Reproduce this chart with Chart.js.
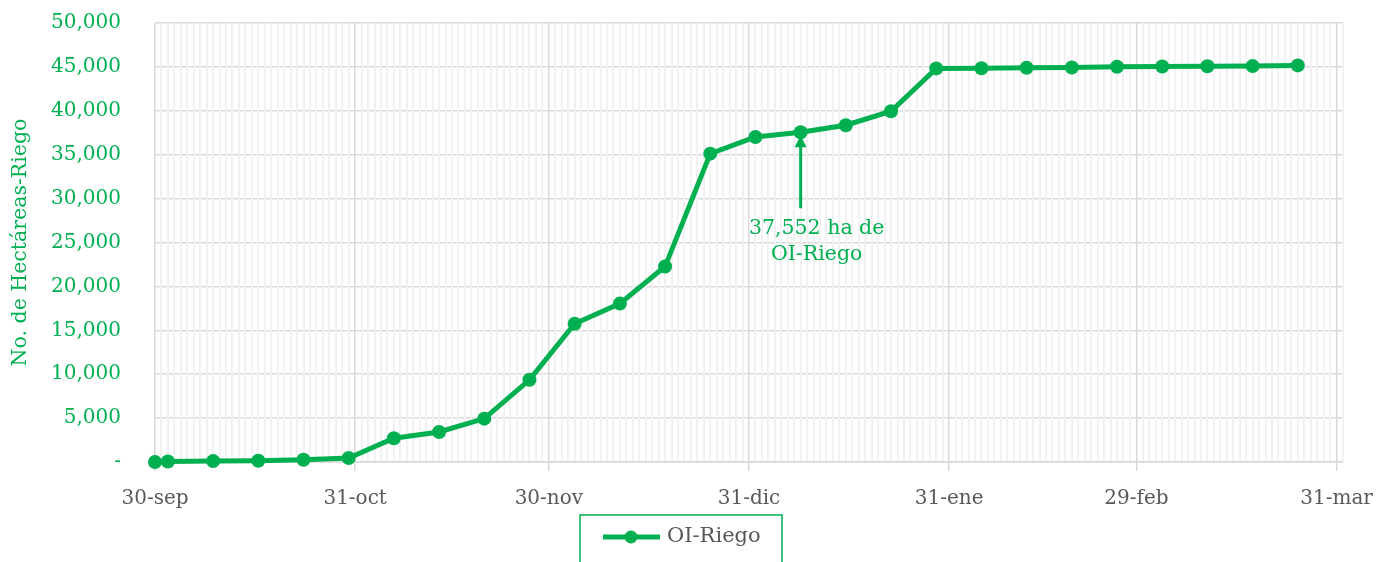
<!DOCTYPE html>
<html>
<head>
<meta charset="utf-8">
<script src="https://cdn.jsdelivr.net/npm/chart.js@4.4.0/dist/chart.umd.min.js"></script>
<style>
  html, body { margin: 0; padding: 0; background: #fff; }
</style>
</head>
<body>
<canvas id="chart" width="1382" height="562"></canvas>
<script>
const fechas = [
  '2023-09-30', '2023-10-02', '2023-10-09', '2023-10-16', '2023-10-23', '2023-10-30',
  '2023-11-06', '2023-11-13', '2023-11-20', '2023-11-27', '2023-12-04', '2023-12-11',
  '2023-12-18', '2023-12-25', '2024-01-01', '2024-01-08', '2024-01-15', '2024-01-22',
  '2024-01-29', '2024-02-05', '2024-02-12', '2024-02-19', '2024-02-26', '2024-03-04',
  '2024-03-11', '2024-03-18', '2024-03-25'
];
const hectareas = [
  0, 50, 100, 150, 250, 450,
  2700, 3420, 4940, 9360, 15750, 18040,
  22260, 35120, 37020, 37552, 38360, 39950,
  44830, 44850, 44900, 44940, 45010, 45050,
  45070, 45090, 45170
];
const mesesFechas = ['2023-09-30', '2023-10-31', '2023-11-30', '2023-12-31', '2024-01-31', '2024-02-29', '2024-03-31'];
const mesesLabels = ['30-sep', '31-oct', '30-nov', '31-dic', '31-ene', '29-feb', '31-mar'];
const yTicks = [0, 5000, 10000, 15000, 20000, 25000, 30000, 35000, 40000, 45000, 50000];
const notaFecha = '2024-01-08';
const notaTexto = ['37,552 ha de', 'OI-Riego'];

const VERDE = '#00b050';
const GRIS = '#595959';
const FUENTE = '"DejaVu Serif", serif';

const base = Date.UTC(2023, 8, 30);
function dia(s) {
  const p = s.split('-').map(Number);
  return Math.round((Date.UTC(p[0], p[1] - 1, p[2]) - base) / 86400000);
}

const mesesDias = mesesFechas.map(dia);
const puntos = fechas.map((f, i) => ({ x: dia(f), y: hectareas[i] }));

function esMes(c) {
  return mesesDias.includes(c.tick && c.tick.value);
}

// Arrow + text pointing at the annotated point
const notaPlugin = {
  id: 'nota',
  afterDatasetsDraw(chart) {
    const idx = fechas.indexOf(notaFecha);
    const pt = chart.getDatasetMeta(0).data[idx];
    const ctx = chart.ctx;
    const x = pt.x, y = pt.y;
    ctx.save();
    ctx.strokeStyle = VERDE;
    ctx.fillStyle = VERDE;
    ctx.lineWidth = 3;
    ctx.beginPath();
    ctx.moveTo(x, y + 76);
    ctx.lineTo(x, y + 12);
    ctx.stroke();
    ctx.beginPath();
    ctx.moveTo(x, y + 3);
    ctx.lineTo(x - 6, y + 15);
    ctx.lineTo(x + 6, y + 15);
    ctx.closePath();
    ctx.fill();
    ctx.font = '20.5px ' + FUENTE;
    ctx.textAlign = 'center';
    ctx.textBaseline = 'middle';
    ctx.fillText(notaTexto[0], x + 16, y + 96);
    ctx.fillText(notaTexto[1], x + 16, y + 122);
    ctx.restore();
  }
};

// Boxed legend at the bottom
const leyendaPlugin = {
  id: 'leyenda',
  afterDraw(chart) {
    const ctx = chart.ctx;
    const ds = chart.data.datasets[0];
    const left = chart.width / 2 - 111;
    const top = 515;
    ctx.save();
    ctx.strokeStyle = VERDE;
    ctx.lineWidth = 1.5;
    ctx.strokeRect(left, top, 202, 60);
    const cy = top + 22;
    ctx.strokeStyle = ds.borderColor;
    ctx.lineWidth = 5;
    ctx.beginPath();
    ctx.moveTo(left + 23, cy);
    ctx.lineTo(left + 80, cy);
    ctx.stroke();
    ctx.fillStyle = ds.borderColor;
    ctx.beginPath();
    ctx.arc(left + 51, cy, 6.5, 0, Math.PI * 2);
    ctx.fill();
    ctx.fillStyle = GRIS;
    ctx.font = '21px ' + FUENTE;
    ctx.textBaseline = 'middle';
    ctx.fillText(ds.label, left + 87, cy);
    ctx.restore();
  }
};

new Chart(document.getElementById('chart'), {
  type: 'line',
  data: {
    datasets: [{
      label: 'OI-Riego',
      data: puntos,
      borderColor: VERDE,
      backgroundColor: VERDE,
      borderWidth: 5,
      pointRadius: 7,
      pointBorderWidth: 0,
      pointBackgroundColor: VERDE,
      tension: 0,
      clip: false
    }]
  },
  options: {
    responsive: false,
    animation: false,
    layout: { padding: { left: 8, right: 39, top: 0, bottom: 35 } },
    plugins: {
      legend: { display: false },
      tooltip: { enabled: false }
    },
    scales: {
      y: {
        min: 0,
        max: 50000,
        afterBuildTicks(axis) {
          axis.ticks = yTicks.map(v => ({ value: v }));
        },
        afterFit(axis) {
          axis.width = 147;
          axis.paddingTop = 23;
          axis.paddingBottom = 0;
        },
        ticks: {
          color: VERDE,
          font: { family: FUENTE, size: 20 },
          padding: 34,
          callback(v) {
            return v === 0 ? '-' : v.toLocaleString('en-US');
          }
        },
        grid: { color: '#d9d9d9', lineWidth: 1.5, drawTicks: false },
        border: { display: false },
        title: {
          display: true,
          text: 'No. de Hectáreas-Riego',
          color: VERDE,
          font: { family: FUENTE, size: 20.5 },
          padding: { top: 0, bottom: 8 }
        }
      },
      x: {
        type: 'linear',
        min: 0,
        max: 184,
        afterBuildTicks(axis) {
          const t = [];
          for (let d = 0; d <= 184; d++) t.push({ value: d });
          axis.ticks = t;
        },
        afterFit(axis) {
          axis.paddingLeft = 0;
          axis.paddingRight = 0;
        },
        ticks: {
          autoSkip: false,
          maxRotation: 0,
          color: GRIS,
          font: { family: FUENTE, size: 20 },
          padding: 16,
          callback(v) {
            const i = mesesDias.indexOf(v);
            return i >= 0 ? mesesLabels[i] : '';
          }
        },
        grid: {
          tickLength: 9,
          lineWidth(c) { return esMes(c) ? 1.5 : 2; },
          color(c) { return esMes(c) ? '#d9d9d9' : '#f2f2f2'; },
          tickColor(c) { return esMes(c) ? '#d9d9d9' : 'rgba(0,0,0,0)'; }
        },
        border: { color: '#d9d9d9', width: 1.5 }
      }
    }
  },
  plugins: [notaPlugin, leyendaPlugin]
});
</script>
</body>
</html>
